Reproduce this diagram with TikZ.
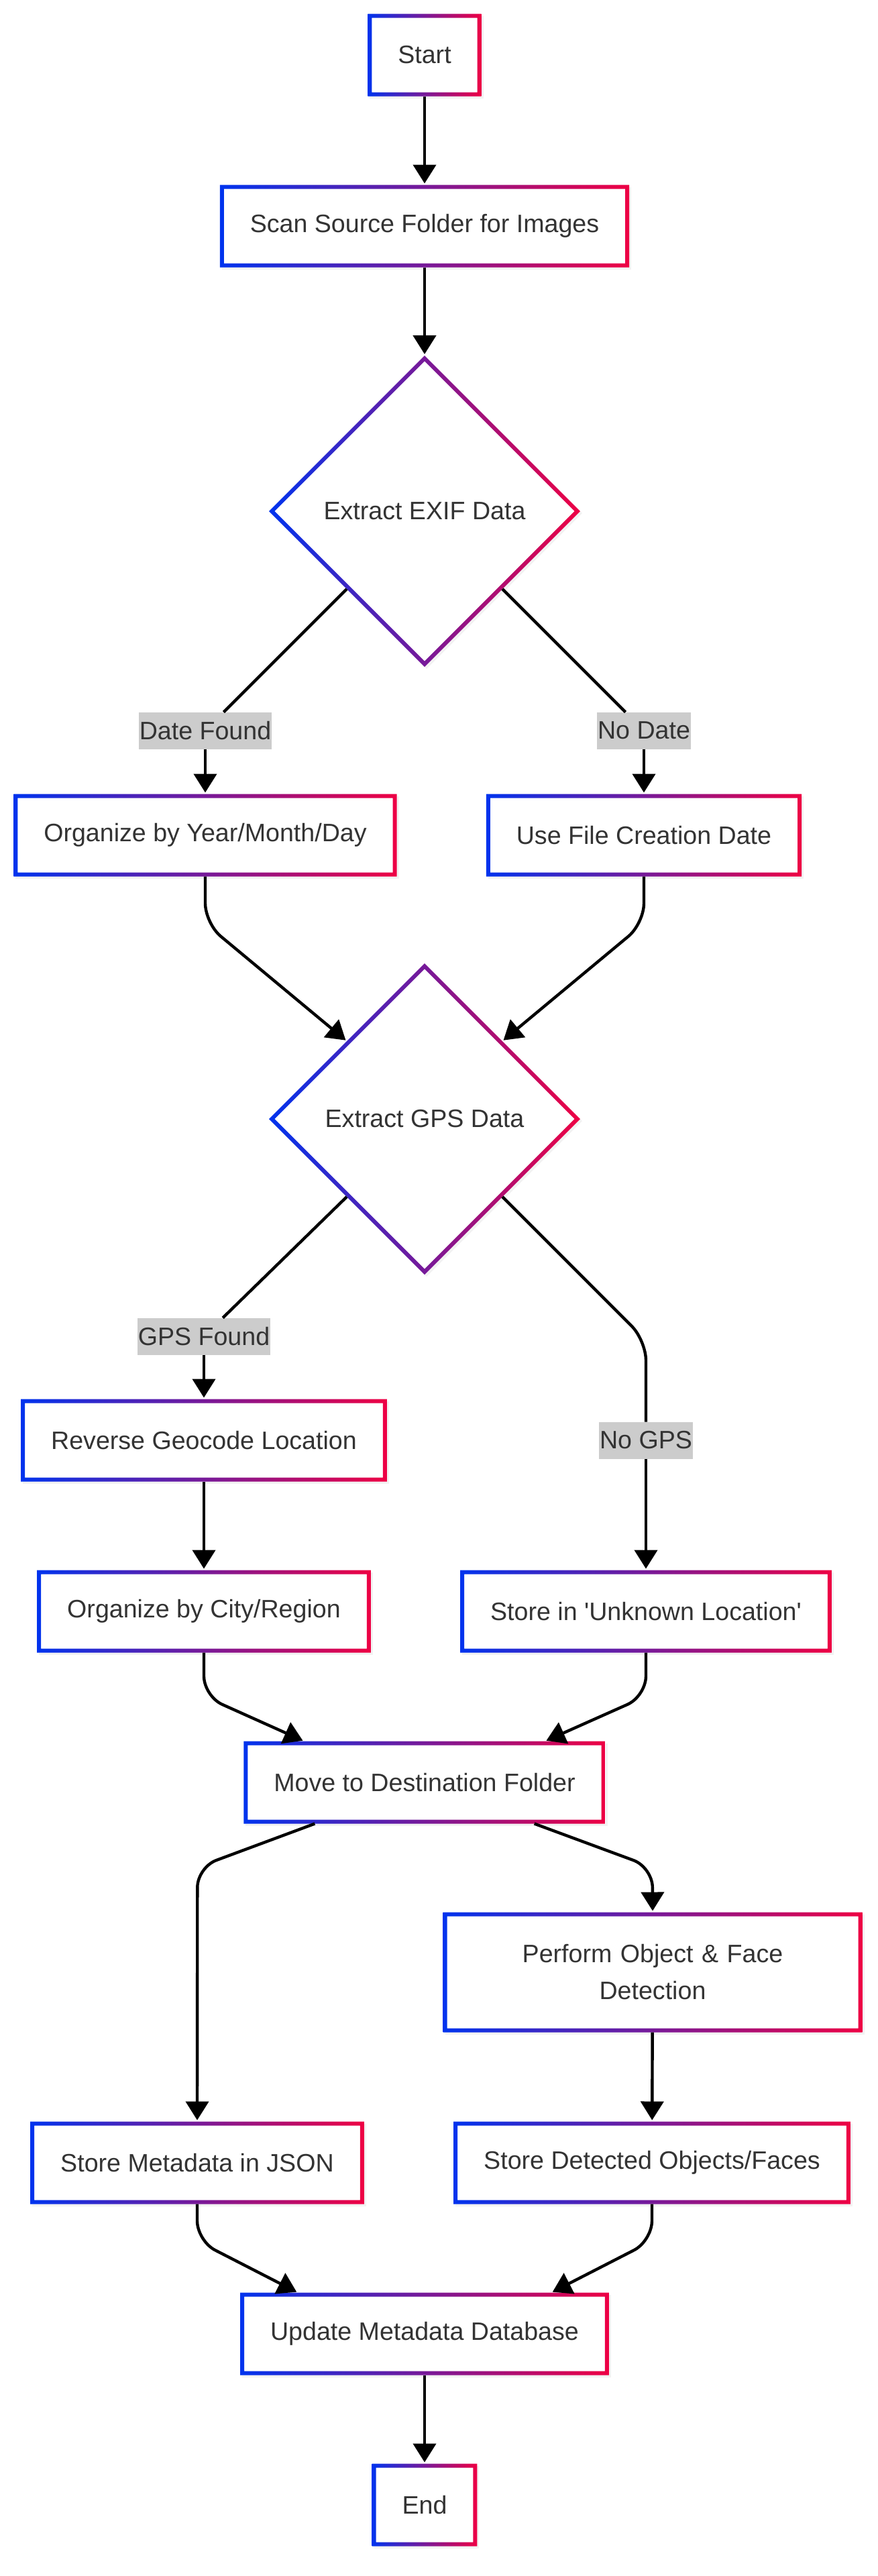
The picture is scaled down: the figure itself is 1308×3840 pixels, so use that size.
\documentclass[tikz,border=0pt]{standalone}
\usepackage{fontspec}
\setmainfont{Liberation Sans}
\usetikzlibrary{shapes.geometric,arrows.meta,shadows}

\definecolor{gblue}{RGB}{0,51,238}
\definecolor{gred}{RGB}{238,0,68}
\definecolor{textgray}{RGB}{51,51,51}
\definecolor{labelgray}{RGB}{204,204,204}

\tikzset{
  stepbox/.style={rectangle, fill=white, draw=none, inner xsep=22.5pt, inner ysep=0pt,
    minimum height=61.5pt, outer sep=0pt, text=textgray,
    font=\fontsize{18.8pt}{27.5pt}\selectfont,
    drop shadow={opacity=0.1, shadow xshift=1.5pt, shadow yshift=-1.5pt}},
  choice/.style={diamond, aspect=1, fill=white, draw=none, inner sep=0pt, outer sep=0pt,
    minimum width=232pt, minimum height=232pt, text=textgray,
    font=\fontsize{18.8pt}{27.5pt}\selectfont,
    drop shadow={opacity=0.1, shadow xshift=1.5pt, shadow yshift=-1.5pt}},
  edgelabel/.style={rectangle, fill=labelgray, inner xsep=0.5pt, inner ysep=0pt,
    minimum height=27.5pt, outer sep=0pt, text=textgray,
    font=\fontsize{18.8pt}{27.5pt}\selectfont},
  flowplain/.style={line width=2.2pt, black},
  flowline/.style={flowplain, -{Triangle[length=14pt, width=17pt]}, shorten >=1pt},
}

\newcommand{\gradrect}[1]{%
  \shade [left color=gblue, right color=gred, even odd rule]
    (#1.north west) rectangle (#1.south east)
    ([shift={(6,6)}]#1.north west) rectangle ([shift={(-6,-6)}]#1.south east);}
\newcommand{\graddiamond}[1]{%
  \shade [left color=gblue, right color=gred, even odd rule]
    (#1.north) -- (#1.east) -- (#1.south) -- (#1.west) -- cycle
    ([yshift=-4.2pt]#1.north) -- ([xshift=-4.2pt]#1.east) -- ([yshift=4.2pt]#1.south) -- ([xshift=4.2pt]#1.west) -- cycle;}

\begin{document}
\begin{tikzpicture}[x=0.5pt, y=-0.5pt]
\useasboundingbox (0,0) rectangle (1308,3840);

% boxes
\node [stepbox] (start) at (633,82) {Start};
\node [stepbox] (scan) at (633,337) {Scan Source Folder for Images};
\node [choice] (exif) at (633,762) {Extract EXIF Data};
\node [stepbox] (ymd) at (306,1245) {Organize by Year/Month/Day};
\node [stepbox] (ucd) at (960,1245) {Use File Creation Date};
\node [choice] (gps) at (633,1668) {Extract GPS Data};
\node [stepbox] (reverse) at (304,2147) {Reverse Geocode Location};
\node [stepbox] (city) at (304,2402) {Organize by City/Region};
\node [stepbox] (unknown) at (963,2402) {Store in \textquotesingle Unknown Location\textquotesingle};
\node [stepbox] (move) at (633,2657) {Move to Destination Folder};
\node [stepbox, text width=267.5pt, align=center, minimum height=89.5pt] (perform) at (973,2940) {Perform Object \& Face\\Detection};
\node [stepbox] (json) at (294,3224) {Store Metadata in JSON};
\node [stepbox] (stored) at (972,3224) {Store Detected Objects/Faces};
\node [stepbox] (update) at (633,3479) {Update Metadata Database};
\node [stepbox] (stop) at (633,3734) {End};

% edge labels
\node [edgelabel] (dfound) at (306,1089) {Date Found};
\node [edgelabel] (nodate) at (960,1089) {No Date};
\node [edgelabel] (gpsfound) at (304,1992) {GPS Found};
\node [edgelabel] (nogps) at (963,2147) {No GPS};

\foreach \n in {start,scan,ymd,ucd,reverse,city,unknown,move,perform,json,stored,update,stop}
{
\gradrect{\n}
}
\foreach \n in {exif,gps}
{
\graddiamond{\n}
}

% connectors
\draw [flowline] (start) -- (scan);
\draw [flowline] (scan) -- (exif);
\draw [flowplain] (exif.south west) -- (dfound);
\draw [flowline] (dfound) -- (ymd);
\draw [flowplain] (exif.south east) -- (nodate);
\draw [flowline] (nodate) -- (ucd);
\draw [flowline, rounded corners=15pt] (ymd.south) -- ++(0,70) -- (gps.north west);
\draw [flowline, rounded corners=15pt] (ucd.south) -- ++(0,70) -- (gps.north east);
\draw [flowplain] (gps.south west) -- (gpsfound);
\draw [flowline] (gpsfound) -- (reverse);
\draw [flowplain, rounded corners=15pt] (gps.south east) -- ++(214,214) -- (nogps);
\draw [flowline] (nogps) -- (unknown);
\draw [flowline] (reverse) -- (city);
\draw [flowline, rounded corners=15pt] (city.south) -- ++(0,65) -- ([xshift=45pt]move.north west);
\draw [flowline, rounded corners=15pt] (unknown.south) -- ++(0,65) -- ([xshift=-45pt]move.north east);
\draw [flowline, rounded corners=15pt] ([xshift=53pt]move.south west) -- ++(-175,65) -- (json.north);
\draw [flowline, rounded corners=15pt] ([xshift=-53pt]move.south east) -- ++(176,65) -- (perform.north);
\draw [flowline] (perform) -- (stored);
\draw [flowline, rounded corners=15pt] (json.south) -- ++(0,55) -- ([xshift=43pt]update.north west);
\draw [flowline, rounded corners=15pt] (stored.south) -- ++(0,55) -- ([xshift=-43pt]update.north east);
\draw [flowline] (update) -- (stop);
\end{tikzpicture}
\end{document}
